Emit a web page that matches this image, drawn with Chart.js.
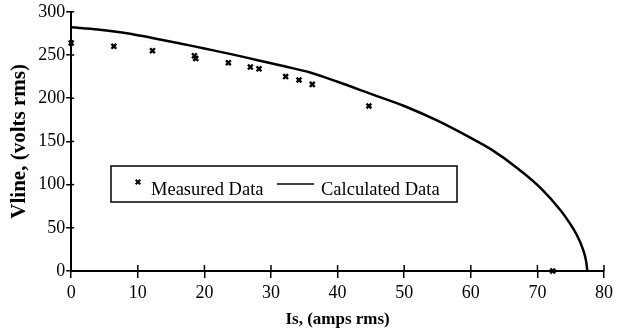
<!DOCTYPE html>
<html>
<head>
<meta charset="utf-8">
<script src="https://cdn.jsdelivr.net/npm/chart.js"></script>
<style>
  html, body { margin: 0; padding: 0; background: #fff; }
  #wrap { width: 617px; height: 334px; }
</style>
</head>
<body>
<div id="wrap"><canvas id="chart" width="617" height="334"></canvas></div>
<script>
// values
const measuredI = [0, 6.4, 12.2, 18.5, 18.7, 23.6, 26.9, 28.2, 32.2, 34.2, 36.2, 44.7, 72.3];
const measuredV = [264, 260, 255, 249, 246, 241, 236, 234, 225, 221, 216, 191, 0];
const calcI = [0, 4, 8.6, 12, 16, 20, 24, 28, 32, 36, 40, 45, 50, 55, 60, 63, 67, 70.5, 73.5, 74.8, 75.9, 76.8, 77.3, 77.5];
const calcV = [282, 279.5, 275, 270, 264, 257.5, 251, 244, 237, 229.5, 219, 205, 191, 174, 154, 141, 119, 96, 70, 56, 42, 26, 12, 0];
const seriesNames = ['Measured Data', 'Calculated Data'];
const xTitle = 'Is, (amps rms)';
const yTitle = 'Vline, (volts rms)';

const FONT = '"Liberation Serif", "Times New Roman", serif';

const toPoints = (xs, ys) => xs.map((x, i) => ({ x: x, y: ys[i] }));

// short tick stubs on the inner side of the axes
const innerTicks = {
  id: 'innerTicks',
  afterDraw(chart) {
    const ctx = chart.ctx;
    const xs = chart.scales.x, ys = chart.scales.y;
    const area = chart.chartArea;
    ctx.save();
    ctx.strokeStyle = '#000';
    ctx.lineWidth = 1.5;
    xs.ticks.forEach(t => {
      const px = xs.getPixelForValue(t.value);
      ctx.beginPath(); ctx.moveTo(px, area.bottom); ctx.lineTo(px, area.bottom - 6); ctx.stroke();
    });
    ys.ticks.forEach(t => {
      const py = ys.getPixelForValue(t.value);
      ctx.beginPath(); ctx.moveTo(area.left, py); ctx.lineTo(area.left + 3, py); ctx.stroke();
    });
    ctx.restore();
  }
};

// boxed legend sitting inside the plot
const boxLegend = {
  id: 'boxLegend',
  afterDraw(chart) {
    const ctx = chart.ctx;
    const x0 = 111, y0 = 166, w = 346, h = 36;
    ctx.save();
    ctx.strokeStyle = '#000';
    ctx.fillStyle = '#fff';
    ctx.lineWidth = 1.5;
    ctx.fillRect(x0, y0, w, h);
    ctx.strokeRect(x0, y0, w, h);
    // marker
    ctx.lineWidth = 2;
    const mx = 138, my = 182, r = 2.3;
    ctx.beginPath();
    ctx.moveTo(mx - r, my - r); ctx.lineTo(mx + r, my + r);
    ctx.moveTo(mx + r, my - r); ctx.lineTo(mx - r, my + r);
    ctx.stroke();
    ctx.fillStyle = '#000';
    ctx.font = '18.5px ' + FONT;
    ctx.textBaseline = 'alphabetic';
    ctx.fillText(seriesNames[0], 151, 195);
    ctx.lineWidth = 1.5;
    ctx.beginPath(); ctx.moveTo(277, 184); ctx.lineTo(314, 184); ctx.stroke();
    ctx.fillText(seriesNames[1], 321, 195);
    ctx.restore();
  }
};

new Chart(document.getElementById('chart'), {
  type: 'scatter',
  data: {
    datasets: [
      {
        label: seriesNames[0],
        data: toPoints(measuredI, measuredV),
        pointStyle: 'crossRot',
        pointRadius: 3.4,
        pointBorderWidth: 2.4,
        borderColor: '#000',
        backgroundColor: '#000',
        showLine: false,
        clip: false
      },
      {
        label: seriesNames[1],
        data: toPoints(calcI, calcV),
        showLine: true,
        pointRadius: 0,
        borderColor: '#000',
        borderWidth: 2.5,
        cubicInterpolationMode: 'monotone',
        clip: false
      }
    ]
  },
  options: {
    responsive: false,
    animation: false,
    layout: { padding: { left: 7, right: 6, top: 8, bottom: 4 } },
    plugins: {
      legend: { display: false },
      tooltip: { enabled: false }
    },
    scales: {
      x: {
        type: 'linear',
        min: 0, max: 80,
        grid: { display: true, drawOnChartArea: false, drawTicks: true, tickLength: 7, color: '#000', lineWidth: 1.5 },
        border: { display: true, color: '#000', width: 2 },
        ticks: { stepSize: 10, color: '#000', font: { family: FONT, size: 18 }, padding: 4, maxRotation: 0 },
        title: { display: true, text: xTitle, color: '#000', font: { family: FONT, size: 17, weight: 'bold' }, padding: { top: 2, bottom: 0 } }
      },
      y: {
        type: 'linear',
        min: 0, max: 300,
        grid: { display: true, drawOnChartArea: false, drawTicks: true, tickLength: 5, color: '#000', lineWidth: 1.5 },
        border: { display: true, color: '#000', width: 2 },
        ticks: { stepSize: 50, color: '#000', font: { family: FONT, size: 18 }, padding: 1 },
        title: { display: true, text: yTitle, color: '#000', font: { family: FONT, size: 21, weight: 'bold' }, padding: { top: 0, bottom: 5 } }
      }
    }
  },
  plugins: [innerTicks, boxLegend]
});
</script>
</body>
</html>
